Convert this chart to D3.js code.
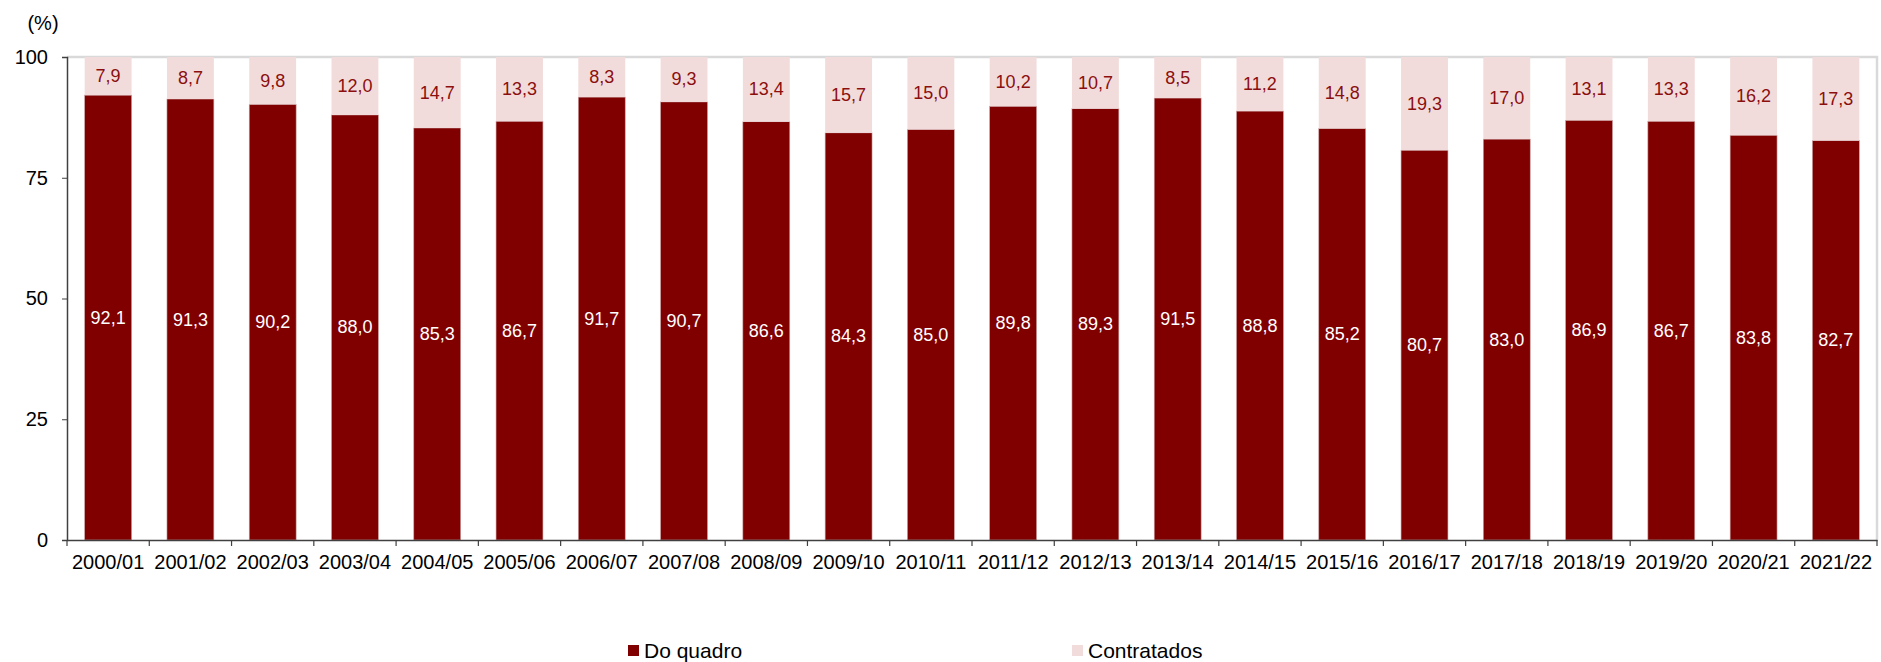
<!DOCTYPE html>
<html><head><meta charset="utf-8">
<script src="https://cdn.jsdelivr.net/npm/d3@7"></script>
<style>body{margin:0;background:#fff;} svg{display:block;font-family:"Liberation Sans",Arial,sans-serif;}</style>
</head><body>
<svg id="c" width="1881" height="662"></svg>
<script>
const categories = ["2000/01","2001/02","2002/03","2003/04","2004/05","2005/06","2006/07","2007/08","2008/09","2009/10","2010/11","2011/12","2012/13","2013/14","2014/15","2015/16","2016/17","2017/18","2018/19","2019/20","2020/21","2021/22"];
const doQuadro = [92.1,91.3,90.2,88.0,85.3,86.7,91.7,90.7,86.6,84.3,85.0,89.8,89.3,91.5,88.8,85.2,80.7,83.0,86.9,86.7,83.8,82.7];
const contratados = [7.9,8.7,9.8,12.0,14.7,13.3,8.3,9.3,13.4,15.7,15.0,10.2,10.7,8.5,11.2,14.8,19.3,17.0,13.1,13.3,16.2,17.3];
const yTicks = [0,25,50,75,100];
const seriesNames = ["Do quadro","Contratados"];
const colors = ["#800000","#F2DCDB"];

const svg = d3.select("#c");
const L = 67, R = 1877, T = 57, B = 540;
const x = d3.scaleBand().domain(categories).range([L, R]).paddingInner(0.43).paddingOuter(0.215);
const y = d3.scaleLinear().domain([0,100]).range([B, T]);
const fmt = v => v.toFixed(1).replace(".", ",");

// plot border (light gray top/right)
svg.append("path").attr("d", `M${L},${T}H${R}V${B}`).attr("fill","none").attr("stroke","#D9D9D9").attr("stroke-width",2.5);

const data = categories.map((c,i)=>({c, a: doQuadro[i], b: contratados[i]}));
const g = svg.append("g");
g.selectAll(".a").data(data).join("rect")
  .attr("x", d=>x(d.c)).attr("width", x.bandwidth())
  .attr("y", d=>y(d.a)).attr("height", d=>y(0)-y(d.a))
  .attr("fill", colors[0]).attr("stroke","#C9A0A0").attr("stroke-width",0.6);
g.selectAll(".b").data(data).join("rect")
  .attr("x", d=>x(d.c)).attr("width", x.bandwidth())
  .attr("y", d=>y(d.a+d.b)).attr("height", d=>y(d.a)-y(d.a+d.b))
  .attr("fill", colors[1]);

g.selectAll(".la").data(data).join("text")
  .attr("x", d=>x(d.c)+x.bandwidth()/2).attr("y", d=>y(d.a/2))
  .attr("text-anchor","middle").attr("dominant-baseline","central")
  .attr("font-size",18).attr("fill","#fff").text(d=>fmt(d.a));
g.selectAll(".lb").data(data).join("text")
  .attr("x", d=>x(d.c)+x.bandwidth()/2).attr("y", d=>y(d.a+d.b/2))
  .attr("text-anchor","middle").attr("dominant-baseline","central")
  .attr("font-size",18).attr("fill","#8B0F0F").text(d=>fmt(d.b));

// y axis
const yAxis = svg.append("g").attr("transform",`translate(${L},0)`)
  .call(d3.axisLeft(y).tickValues(yTicks).tickSize(5).tickPadding(14).tickFormat(d3.format("d")));
yAxis.select(".domain").attr("stroke","#404040").attr("stroke-width",1.5);
yAxis.selectAll(".tick line").attr("stroke","#404040");
yAxis.selectAll("text").attr("font-size",20).attr("fill","#000").attr("font-family","Liberation Sans, Arial, sans-serif");

// x axis
const xAxis = svg.append("g").attr("transform",`translate(0,${B})`)
  .call(d3.axisBottom(x).tickSize(0).tickPadding(15));
xAxis.select(".domain").attr("stroke","#404040").attr("stroke-width",1.5);
xAxis.selectAll("text").attr("font-size",20).attr("fill","#000").attr("font-family","Liberation Sans, Arial, sans-serif");
// boundary ticks
const bounds = d3.range(categories.length+1).map(i => L + i*(R-L)/categories.length);
svg.append("g").selectAll("line").data(bounds).join("line")
  .attr("x1",d=>d).attr("x2",d=>d).attr("y1",B).attr("y2",B+6)
  .attr("stroke","#404040").attr("stroke-width",1.2);

// unit
svg.append("text").attr("x",43).attr("y",23).attr("text-anchor","middle").attr("dominant-baseline","central")
  .attr("font-size",20).text("(%)");

// legend
const legX = [628, 1072];
const leg = svg.append("g").selectAll("g").data(seriesNames).join("g");
leg.append("rect").attr("x",(d,i)=>legX[i]).attr("y",645).attr("width",11).attr("height",11).attr("fill",(d,i)=>colors[i]);
leg.append("text").attr("x",(d,i)=>legX[i]+16).attr("y",650).attr("dominant-baseline","central")
  .attr("font-size",21).attr("fill","#000").text(d=>d);
</script>
</body></html>
